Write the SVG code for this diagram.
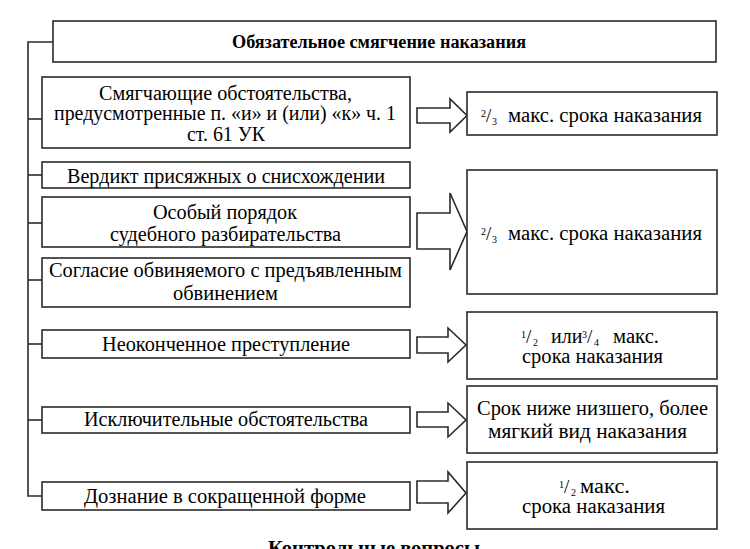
<svg xmlns="http://www.w3.org/2000/svg" width="750" height="549" viewBox="0 0 750 549">
<style>
.box{fill:#fff;stroke:#2a2a2a;stroke-width:1.6}
.arr{fill:#fff;stroke:#2a2a2a;stroke-width:1.6;stroke-linejoin:miter}
.con{fill:none;stroke:#2a2a2a;stroke-width:1.6}
text{font-family:"Liberation Serif","Times New Roman",serif;font-size:20px;fill:#000}
.t{font-weight:bold;font-size:18px}
.s{font-size:10px}
.sl{font-size:19px}
</style>
<rect width="750" height="549" fill="#fff"/>
<g id="connectors">
<polyline class="con" points="53,42 28,42 28,496 42,496"/>
<line class="con" x1="28" y1="119" x2="42" y2="119"/>
<line class="con" x1="28" y1="175" x2="42" y2="175"/>
<line class="con" x1="28" y1="223" x2="42" y2="223"/>
<line class="con" x1="28" y1="280" x2="42" y2="280"/>
<line class="con" x1="28" y1="344" x2="42" y2="344"/>
<line class="con" x1="28" y1="420" x2="42" y2="420"/>
<polygon class="arr" points="417,108 450,108 450,99 467,115.5 450,132 450,123 417,123"/>
<polygon class="arr" points="417,213 450,213 450,193 467,231.5 450,270 450,249 417,249"/>
<polygon class="arr" points="417,337 448,337 448,328 466,345 448,362 448,353 417,353"/>
<polygon class="arr" points="417,412 448,412 448,403 466,420 448,437 448,427 417,427"/>
<polygon class="arr" points="417,481 448,481 448,472 466,493 448,513 448,503 417,503"/>
</g>
<g id="title">
<rect class="box" x="53" y="21" width="663" height="41"/>
<text class="t" x="232" y="48" textLength="294" lengthAdjust="spacingAndGlyphs">Обязательное смягчение наказания</text>
</g>
<g id="n1">
<rect class="box" x="42" y="77" width="368" height="71"/>
<text x="99" y="100" textLength="253" lengthAdjust="spacingAndGlyphs">Смягчающие обстоятельства,</text>
<text x="54" y="120" textLength="342" lengthAdjust="spacingAndGlyphs">предусмотренные п. «и» и (или) «к» ч. 1</text>
<text x="187" y="141" textLength="78" lengthAdjust="spacingAndGlyphs">ст. 61 УК</text>
</g>
<g id="n2">
<rect class="box" x="42" y="162" width="368" height="26"/>
<text x="67" y="183" textLength="318" lengthAdjust="spacingAndGlyphs">Вердикт присяжных о снисхождении</text>
</g>
<g id="n3">
<rect class="box" x="42" y="197" width="368" height="50"/>
<text x="153" y="219" textLength="144" lengthAdjust="spacingAndGlyphs">Особый порядок</text>
<text x="110" y="241" textLength="231" lengthAdjust="spacingAndGlyphs">судебного разбирательства</text>
</g>
<g id="n4">
<rect class="box" x="42" y="258" width="368" height="49"/>
<text x="49" y="277" textLength="353" lengthAdjust="spacingAndGlyphs">Согласие обвиняемого с предъявленным</text>
<text x="173" y="300" textLength="105" lengthAdjust="spacingAndGlyphs">обвинением</text>
</g>
<g id="n5">
<rect class="box" x="42" y="330" width="368" height="28"/>
<text x="102" y="351" textLength="248" lengthAdjust="spacingAndGlyphs">Неоконченное преступление</text>
</g>
<g id="n6">
<rect class="box" x="42" y="407" width="368" height="26"/>
<text x="84" y="426" textLength="284" lengthAdjust="spacingAndGlyphs">Исключительные обстоятельства</text>
</g>
<g id="n7">
<rect class="box" x="42" y="482" width="368" height="28"/>
<text x="84" y="503" textLength="282" lengthAdjust="spacingAndGlyphs">Дознание в сокращенной форме</text>
</g>
<g id="r1">
<rect class="box" x="467" y="92" width="250" height="43"/>
<text><tspan class="s" x="481" y="117">2</tspan><tspan class="sl" x="486" y="122">/</tspan><tspan class="s" x="492" y="125">3</tspan><tspan x="508" y="122" textLength="194" lengthAdjust="spacingAndGlyphs">макс. срока наказания</tspan></text>
</g>
<g id="r2">
<rect class="box" x="467" y="170" width="250" height="124"/>
<text><tspan class="s" x="481" y="235">2</tspan><tspan class="sl" x="486" y="240">/</tspan><tspan class="s" x="492" y="243">3</tspan><tspan x="508" y="240" textLength="194" lengthAdjust="spacingAndGlyphs">макс. срока наказания</tspan></text>
</g>
<g id="r3">
<rect class="box" x="467" y="312" width="250" height="67"/>
<text><tspan class="s" x="521" y="338">1</tspan><tspan class="sl" x="526" y="343">/</tspan><tspan class="s" x="533" y="346">2</tspan><tspan x="551" y="343">или</tspan><tspan class="s" x="582" y="338">3</tspan><tspan class="sl" x="587" y="343">/</tspan><tspan class="s" x="594" y="346">4</tspan><tspan x="613" y="343" textLength="46" lengthAdjust="spacingAndGlyphs">макс.</tspan></text>
<text x="522" y="363" textLength="141" lengthAdjust="spacingAndGlyphs">срока наказания</text>
</g>
<g id="r4">
<rect class="box" x="467" y="386" width="250" height="67"/>
<text x="477" y="415" textLength="231" lengthAdjust="spacingAndGlyphs">Срок ниже низшего, более</text>
<text x="488" y="438" textLength="199" lengthAdjust="spacingAndGlyphs">мягкий вид наказания</text>
</g>
<g id="r5">
<rect class="box" x="467" y="462" width="250" height="67"/>
<text><tspan class="s" x="559" y="488">1</tspan><tspan class="sl" x="564" y="493">/</tspan><tspan class="s" x="571" y="496">2</tspan><tspan x="580" y="493" textLength="50" lengthAdjust="spacingAndGlyphs">макс.</tspan></text>
<text x="522" y="513" textLength="143" lengthAdjust="spacingAndGlyphs">срока наказания</text>
</g>
<text x="268" y="555" font-weight="bold" font-size="18" textLength="212" lengthAdjust="spacingAndGlyphs">Контрольные вопросы</text>
</svg>
